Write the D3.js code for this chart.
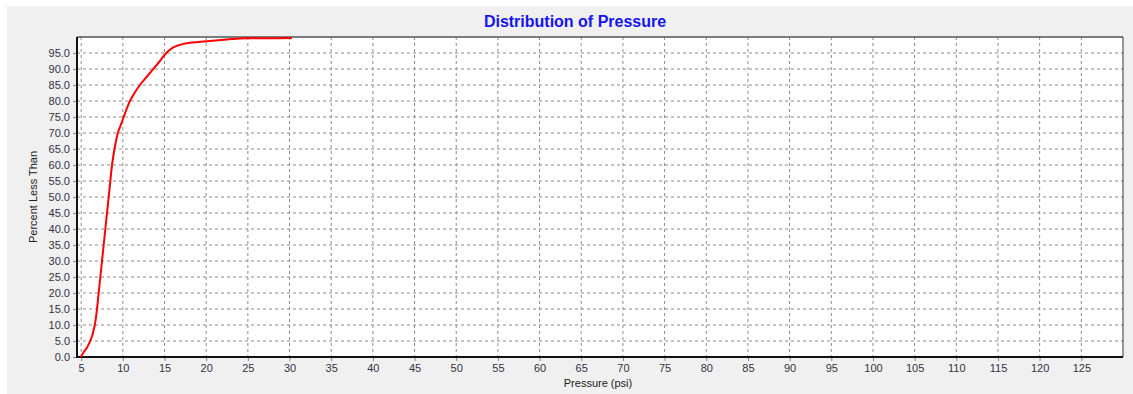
<!DOCTYPE html>
<html><head><meta charset="utf-8">
<script src="https://cdn.jsdelivr.net/npm/d3@7"></script>
<style>
body{margin:0;background:#fff;}
text{font-family:"Liberation Sans",Arial,sans-serif;}
</style></head>
<body><svg id="c" width="1133" height="394"></svg>
<script>
const pressure = [4.95, 5.3, 5.7, 6.0, 6.3, 6.5, 6.7, 6.9, 7.1, 7.3, 7.5, 7.7, 7.9, 8.1, 8.3, 8.5, 8.7, 9.0, 9.4, 9.75, 10.1, 10.45, 10.85, 11.4, 12.05, 12.85, 13.65, 14.45, 15.2, 16.0, 16.9, 18.5, 20.1, 21.5, 23.2, 25.0, 27.0, 30.3];
const percent  = [0, 1.5, 3.0, 4.5, 6.5, 8.5, 11, 15, 20, 25, 30, 35, 40, 45, 50, 55, 60, 65, 70, 72.5, 75, 77.5, 80, 82.5, 85, 87.5, 90, 92.5, 95, 96.7, 97.6, 98.3, 98.7, 99.0, 99.4, 99.6, 99.6, 99.7];
const xTicks = d3.range(5, 130, 5);
const yTicks = d3.range(0, 100, 5);
const title = "Distribution of Pressure";
const xTitle = "Pressure (psi)";
const yTitle = "Percent Less Than";

const svg = d3.select("#c");
svg.append("rect").attr("x",7).attr("y",6).attr("width",1126).attr("height",388).attr("fill","#f0f0f0");

const L=77, R=1123, T=37, B=357;
const x = d3.scaleLinear().domain([4.5,130]).range([L,R]);
const y = d3.scaleLinear().domain([0,100]).range([B,T]);

svg.append("rect").attr("x",L).attr("y",T).attr("width",R-L).attr("height",B-T).attr("fill","#fff");

// grid
const g = svg.append("g");
g.selectAll("line.v").data(xTicks).join("line")
  .attr("x1",d=>x(d)).attr("x2",d=>x(d)).attr("y1",T).attr("y2",B)
  .attr("stroke","#8c8c8c").attr("stroke-width",1).attr("stroke-dasharray","3,3");
g.selectAll("line.h").data(yTicks.filter(d=>d>0)).join("line")
  .attr("x1",L).attr("x2",R).attr("y1",d=>y(d)).attr("y2",d=>y(d))
  .attr("stroke","#8c8c8c").attr("stroke-width",1).attr("stroke-dasharray","3,3");

// axes
const xa = svg.append("g").attr("transform",`translate(0,${B})`)
  .call(d3.axisBottom(x).tickValues(xTicks).tickSize(4).tickPadding(3).tickFormat(d3.format("d")));
const ya = svg.append("g").attr("transform",`translate(${L},0)`)
  .call(d3.axisLeft(y).tickValues(yTicks).tickSize(4).tickPadding(3).tickFormat(d3.format(".1f")));
[xa,ya].forEach(a=>{
  a.select(".domain").remove();
  a.selectAll(".tick line").attr("stroke","#888");
  a.selectAll(".tick text").attr("fill","#333344").style("font-size","11px").style("font-family","'Liberation Sans',Arial,sans-serif");
});

// frame
svg.append("line").attr("x1",L).attr("x2",R).attr("y1",T).attr("y2",T).attr("stroke","#555").attr("stroke-width",1.5);
svg.append("line").attr("x1",R).attr("x2",R).attr("y1",T).attr("y2",B).attr("stroke","#333").attr("stroke-width",1);
svg.append("line").attr("x1",L-1).attr("x2",R).attr("y1",B).attr("y2",B).attr("stroke","#111").attr("stroke-width",2);
svg.append("line").attr("x1",L).attr("x2",L).attr("y1",T).attr("y2",B+1).attr("stroke","#111").attr("stroke-width",2);

// curve
const line = d3.line().x((d,i)=>x(pressure[i])).y((d,i)=>y(percent[i])).curve(d3.curveCatmullRom.alpha(0.5));
svg.append("path").datum(pressure).attr("d",line).attr("fill","none").attr("stroke","#ff0000").attr("stroke-width",2);

// titles
svg.append("text").attr("x",575).attr("y",27).attr("text-anchor","middle")
  .attr("fill","#1414f0").style("font-size","16px").style("font-weight","bold").text(title);
svg.append("text").attr("x",598).attr("y",387).attr("text-anchor","middle")
  .attr("fill","#222").style("font-size","11px").text(xTitle);
svg.append("text").attr("transform","translate(37,197) rotate(-90)").attr("text-anchor","middle")
  .attr("fill","#222").style("font-size","11px").text(yTitle);
</script></body></html>
